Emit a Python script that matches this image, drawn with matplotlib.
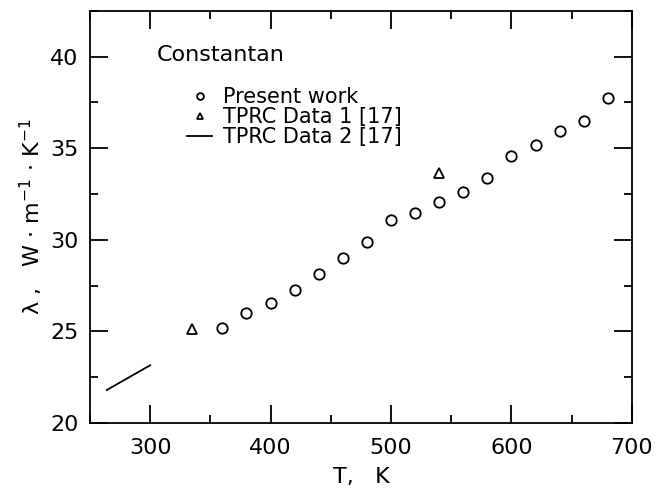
"""Thermal conductivity of constantan vs temperature."""

import matplotlib

matplotlib.use("Agg")
import matplotlib.pyplot as plt
from matplotlib.ticker import MultipleLocator

# present work (circles)
present_T = [360, 380, 400, 420, 440, 460, 480, 500, 520, 540, 560, 580, 600, 620, 640, 660, 680]
present_lam = [25.18, 26.03, 26.56, 27.27, 28.12, 29.0, 29.87, 31.09, 31.49, 32.07,
               32.63, 33.39, 34.57, 35.2, 35.95, 36.5, 37.73]

# TPRC data 1 (triangles)
tprc1_T = [335, 540]
tprc1_lam = [25.13, 33.66]

# TPRC data 2 (line)
tprc2_T = [264, 300]
tprc2_lam = [21.8, 23.15]

plt.rcParams["font.family"] = "DejaVu Sans"
plt.rcParams["mathtext.fontset"] = "dejavusans"

fig = plt.figure(figsize=(6.61, 4.93), dpi=100)
ax = fig.add_axes([0.136, 0.142, 0.82, 0.836])

ax.plot(present_T, present_lam, linestyle="none", marker="o", ms=7.5, mfc="white",
        mec="black", mew=1.3, label="Present work")
ax.plot(tprc1_T, tprc1_lam, linestyle="none", marker="^", ms=7.5, mfc="white",
        mec="black", mew=1.3, label="TPRC Data 1 [17]")
ax.plot(tprc2_T, tprc2_lam, color="black", lw=1.3, label="TPRC Data 2 [17]")

ax.set_xlim(250, 700)
ax.set_ylim(20, 42.5)
ax.xaxis.set_major_locator(MultipleLocator(100))
ax.xaxis.set_minor_locator(MultipleLocator(50))
ax.yaxis.set_major_locator(MultipleLocator(5))
ax.yaxis.set_minor_locator(MultipleLocator(2.5))
ax.tick_params(which="both", direction="in", top=True, right=True, width=1.3,
               labelsize=16)
ax.tick_params(axis="x", pad=11)
ax.tick_params(axis="y", pad=8)
ax.tick_params(which="major", length=13)
ax.tick_params(which="minor", length=6)
for sp in ax.spines.values():
    sp.set_linewidth(1.3)

ax.set_xlabel("T,   K", fontsize=16, labelpad=6)
ax.set_ylabel(r"λ ,   W $\cdot$ m$^{-1}$ $\cdot$ K$^{-1}$", fontsize=16, labelpad=4)

ax.text(0.124, 0.893, "Constantan", transform=ax.transAxes, fontsize=16,
        ha="left", va="center")
ax.legend(loc="upper left", bbox_to_anchor=(0.18, 0.815), frameon=False,
          fontsize=15, markerscale=0.65, handlelength=1.2, handletextpad=0.5,
          labelspacing=0.0, borderpad=0, borderaxespad=0)

fig.savefig("out.png", dpi=100)
